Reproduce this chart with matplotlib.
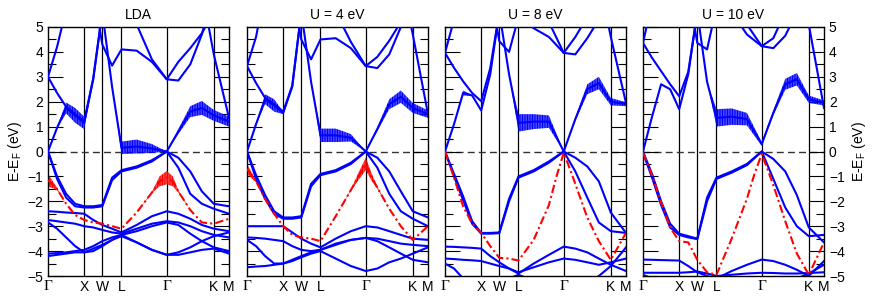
import matplotlib
matplotlib.use('Agg')
import numpy as np
import matplotlib.pyplot as plt
from matplotlib.ticker import MultipleLocator

plt.rcParams['font.family'] = ['Liberation Sans', 'DejaVu Sans']
plt.rcParams['hatch.linewidth'] = 1.0

# === k-path (sample points) and high-symmetry points
k_path = [0.0, 0.25, 0.5, 0.75, 1.0, 1.25, 1.5, 1.77, 2.03, 2.45, 2.87, 3.28, 3.6, 3.93, 4.25, 4.58, 5.0]
red_k = [0.0, 0.25, 0.5, 0.75, 1.0, 1.25, 1.5, 1.77, 2.03, 2.45, 2.87, 3.08, 3.28, 3.45, 3.6, 3.93, 4.25, 4.58, 5.0]
sym_k = [0.0, 1.0, 1.5, 2.03, 3.28, 4.58, 5.0]
sym_labels = ['Γ', 'X', 'W', 'L', 'Γ', 'K', 'M']
titles = ['LDA', 'U = 4 eV', 'U = 8 eV', 'U = 10 eV']

OFF = 6.5  # bands above the window

# === LDA
lda_blue = [
    [0.0, 0.95, 1.75, 1.45, 1.15, 2.9, 5.6, 2.6, 0.15, 0.2, 0.12, 0.0, 0.8, 1.6, 1.75, 1.45, 1.2],
    [3.0, 2.35, 1.8, 1.5, 1.2, 2.95, 5.6] + [OFF] * 10,
    [3.0, 4.2, 5.7] + [OFF] * 14,
    [OFF] * 6 + [4.3, 3.45, 4.1, 4.05, 3.6, 2.9, 3.6, 4.15, 4.75, 5.6, OFF],
    [OFF] * 9 + [5.1, 3.7, 2.9, 2.85, 3.5, 4.7, OFF, OFF],
    [OFF] * 15 + [3.9, 1.35],
    [0.0, -1.0, -1.7, -2.1, -2.2, -2.2, -2.15, -1.05, -0.75, -0.6, -0.35, 0.0, -0.25, -0.8, -1.6, -2.1, -2.2],
    [0.0, -1.1, -1.85, -2.2, -2.25, -2.25, -2.2, -1.15, -0.8, -0.65, -0.4, 0.0, -0.65, -1.7, -2.1, -2.3, -2.5],
    [-2.4, -2.42, -2.45, -2.47, -2.5, -2.75, -2.95, -3.1, -3.25, -2.95, -2.6, -2.4, -2.5, -2.7, -2.95, -3.1, -3.2],
    [-2.75, -2.8, -2.85, -2.9, -3.0, -3.05, -3.15, -3.25, -3.3, -3.1, -2.9, -2.8, -2.85, -3.0, -3.2, -3.35, -3.45],
    [-2.85, -3.1, -3.45, -3.8, -4.05, -4.0, -3.8, -3.55, -3.35, -3.65, -3.95, -4.15, -4.05, -3.85, -3.6, -3.4, -3.25],
    [-4.1, -4.08, -4.05, -4.0, -3.95, -3.8, -3.6, -3.45, -3.35, -3.2, -3.0, -2.85, -2.95, -3.3, -3.6, -3.85, -4.0],
    [-4.2, -4.15, -4.1, -4.05, -4.05, -3.9, -3.75, -3.55, -3.4, -3.65, -3.95, -4.15, -4.15, -4.05, -3.95, -3.9, -4.1],
]
lda_fat_w = [0, 0.03, 0.22, 0.3, 0.25, 0.03, 0, 0, 0.25, 0.28, 0.18, 0.0, 0.1, 0.22, 0.28, 0.22, 0.2]
lda_red = [-1.15, -1.5, -2.1, -2.55, -2.75, -2.85, -2.9, -3.0, -3.1, -2.45, -1.65, -1.2, -1.05, -1.2, -1.6, -2.35, -2.85, -2.9, -2.7]
lda_red_w = [0.25, 0.05, 0, 0, 0, 0, 0, 0, 0, 0, 0.03, 0.2, 0.27, 0.2, 0.05, 0, 0, 0, 0]

# === U = 4 eV
u4_blue = [
    [0.0, 1.1, 2.1, 1.85, 1.55, 2.6, 5.6, 2.8, 0.65, 0.65, 0.55, 0.0, 0.9, 1.9, 2.2, 1.75, 1.5],
    [3.43, 2.75, 2.15, 1.9, 1.6, 2.65, 5.6] + [OFF] * 10,
    [3.43, 4.6] + [OFF] * 15,
    [OFF] * 6 + [4.5, 3.7, 4.5, 4.55, 4.15, 3.43, 3.35, 3.9, 5.0, OFF, OFF],
    [OFF] * 9 + [5.6, 4.4, 3.43, 3.8, 4.45, 5.2, OFF, OFF],
    [OFF] * 14 + [7.0, 4.7, 1.5],
    [0.0, -0.95, -1.75, -2.4, -2.65, -2.65, -2.6, -1.3, -0.9, -0.75, -0.45, 0.0, -0.25, -0.8, -1.6, -2.4, -2.65],
    [0.0, -1.1, -1.9, -2.5, -2.7, -2.7, -2.65, -1.4, -0.95, -0.8, -0.5, 0.0, -0.65, -1.7, -2.4, -2.7, -3.0],
    [-3.0, -3.0, -3.0, -3.0, -3.0, -3.25, -3.5, -3.7, -3.85, -3.5, -3.2, -3.0, -3.05, -3.2, -3.35, -3.5, -3.55],
    [-3.45, -3.47, -3.5, -3.55, -3.6, -3.8, -3.95, -4.0, -3.95, -3.75, -3.55, -3.47, -3.5, -3.6, -3.7, -3.75, -3.8],
    [-3.55, -3.8, -4.2, -4.5, -4.5, -4.4, -4.25, -4.1, -4.0, -4.3, -4.6, -4.8, -4.7, -4.45, -4.3, -4.1, -3.85],
    [-4.65, -4.62, -4.6, -4.55, -4.5, -4.35, -4.2, -4.05, -3.95, -3.7, -3.55, -3.47, -3.6, -3.85, -4.1, -4.35, -4.45],
]
u4_fat_w = [0, 0.03, 0.2, 0.25, 0.05, 0, 0, 0, 0.27, 0.27, 0.15, 0.0, 0.08, 0.2, 0.25, 0.2, 0.15]
u4_red = [-0.7, -1.2, -1.9, -2.5, -3.0, -3.35, -3.45, -3.5, -3.6, -2.6, -1.55, -1.0, -0.5, -1.05, -1.45, -2.3, -3.0, -3.55, -3.0]
u4_red_w = [0.2, 0.04, 0, 0, 0, 0, 0, 0, 0, 0, 0.03, 0.15, 0.25, 0.15, 0.04, 0, 0, 0, 0]

# === U = 8 eV
u8_blue = [
    [0.0, 1.1, 2.35, 2.25, 1.65, 3.1, 5.6, 3.1, 1.15, 1.2, 1.2, 0.0, 1.3, 2.5, 2.75, 2.0, 1.9],
    [3.96, 3.36, 2.82, 2.35, 2.02, 3.35, 5.6] + [OFF] * 10,
    [3.96, 5.3] + [OFF] * 15,
    [OFF] * 6 + [4.43, 4.0, 5.4, 4.95, 4.6, 3.96, 3.9, 4.55, 5.3, OFF, OFF],
    [OFF] * 10 + [5.2, 3.96, 4.6, 5.4, OFF, OFF, OFF],
    [OFF] * 14 + [7.0, 4.6, 1.95],
    [0.0, -0.9, -1.8, -2.8, -3.27, -3.27, -3.25, -1.9, -1.0, -0.75, -0.4, 0.0, -0.25, -0.6, -1.2, -2.45, -3.27],
    [0.0, -1.0, -1.95, -2.9, -3.3, -3.3, -3.28, -2.0, -1.05, -0.8, -0.45, 0.0, -0.8, -1.85, -2.85, -3.2, -3.27],
    [-3.82, -3.83, -3.85, -3.87, -3.9, -4.2, -4.45, -4.7, -4.9, -4.5, -4.15, -3.82, -3.9, -4.05, -4.3, -4.55, -4.8],
    [-4.3, -4.32, -4.35, -4.37, -4.4, -4.5, -4.6, -4.7, -4.85, -4.65, -4.45, -4.3, -4.35, -4.45, -4.55, -4.45, -4.3],
    [-4.5, -4.7, -5.1, -5.5, -5.6, -5.5, -5.3, -5.1, -4.95, -5.2, -5.4, -5.5, -5.4, -5.3, -5.0, -4.6, -3.85],
]
u8_fat_w = [0, 0, 0.1, 0.02, 0, 0, 0, 0, 0.35, 0.3, 0.25, 0.0, 0.08, 0.2, 0.25, 0.15, 0.08]
u8_red = [0.0, -1.05, -2.2, -2.9, -3.27, -3.8, -4.27, -4.3, -4.38, -3.55, -2.15, -1.0, -0.05, -0.7, -1.3, -2.65, -3.6, -4.35, -3.27]
u8_red_w = [0] * 19

# === U = 10 eV
u10_blue = [
    [0.0, 1.4, 2.7, 2.5, 1.7, 3.1, 5.6, 2.8, 1.35, 1.4, 1.3, 0.3, 1.55, 2.7, 2.9, 2.1, 1.95],
    [4.36, 3.76, 3.23, 2.7, 2.22, 3.2, 5.6] + [OFF] * 10,
    [4.36, 6.0] + [OFF] * 15,
    [OFF] * 6 + [4.36, 4.1, 5.8, 5.6, 4.7, 4.23, 4.15, 4.65, 5.6, OFF, OFF],
    [OFF] * 10 + [5.1, 4.23, 4.55, 5.6, OFF, OFF, OFF],
    [OFF] * 14 + [7.0, 5.1, 1.75],
    [0.0, -0.9, -2.0, -2.9, -3.3, -3.4, -3.5, -1.85, -1.05, -0.8, -0.5, 0.0, -0.3, -0.8, -1.75, -3.05, -3.65],
    [-0.05, -1.05, -2.15, -3.05, -3.35, -3.45, -3.52, -2.0, -1.1, -0.85, -0.55, 0.0, -1.1, -2.25, -3.0, -3.4, -3.35],
    [-4.34, -4.35, -4.36, -4.37, -4.38, -4.6, -4.85, -5.0, -5.1, -4.8, -4.55, -4.34, -4.4, -4.55, -4.75, -5.0, -4.4],
    [-4.87, -4.87, -4.87, -4.87, -4.87, -4.85, -4.82, -4.9, -5.0, -4.95, -4.9, -4.87, -4.88, -4.9, -4.9, -4.88, -4.85],
    [-4.95, -5.1, -5.4, -5.6, -5.6, -5.5, -5.3, -5.2, -5.1, -5.3, -5.5, -5.6, -5.5, -5.3, -5.1, -4.9, -4.55],
]
u10_fat_w = [0, 0, 0.03, 0, 0, 0, 0, 0, 0.35, 0.33, 0.25, 0.08, 0.1, 0.22, 0.25, 0.15, 0.1]
u10_red = [-0.05, -0.95, -2.05, -3.05, -3.6, -3.65, -4.35, -4.85, -4.95, -3.5, -1.9, -0.9, -0.1, -0.75, -1.35, -2.8, -4.1, -4.95, -3.65]
u10_red_w = [0] * 19

panels = [
    (lda_blue, lda_fat_w, lda_red, lda_red_w),
    (u4_blue, u4_fat_w, u4_red, u4_red_w),
    (u8_blue, u8_fat_w, u8_red, u8_red_w),
    (u10_blue, u10_fat_w, u10_red, u10_red_w),
]

# === Figure
fig = plt.figure(figsize=(8.72, 2.96), dpi=100)
lefts = [48, 247, 445, 643]
k = np.array(k_path)
kr = np.array(red_k)

for i, (blue, fat_w, red, red_w) in enumerate(panels):
    ax = fig.add_axes([lefts[i] / 872, 20 / 296, 181 / 872, 249 / 296])

    # fat (orbital weight) bands
    e0 = np.array(blue[0])
    w = np.array(fat_w)
    ax.fill_between(k, e0 - w, e0 + w, facecolor='none', edgecolor='blue',
                    hatch='|' * 10, linewidth=0, zorder=2)
    er = np.array(red)
    wr = np.array(red_w)
    ax.fill_between(kr, er - wr, er + wr, facecolor='none', edgecolor='red',
                    hatch='|' * 10, linewidth=0, zorder=2)

    for band in blue:
        ax.plot(k, band, color='blue', lw=1.5, zorder=3)
    ax.plot(kr, red, color='red', lw=1.5, ls=(0, (4, 1.5, 1, 1.5)), zorder=4)

    for ks in sym_k[1:-1]:
        ax.axvline(ks, color='black', lw=0.9, zorder=1)
    ax.axhline(0, color='#333333', lw=1.0, ls=(0, (5, 3)), zorder=1)

    ax.set_xlim(0, 5)
    ax.set_ylim(-5, 5)
    ax.set_xticks(sym_k)
    ax.set_xticklabels(sym_labels, fontsize=10)
    for lab in ax.get_xticklabels():
        if lab.get_text() == 'Γ':
            lab.set_fontfamily('Liberation Serif')
            lab.set_fontsize(11)
    ax.tick_params(axis='x', length=0, pad=3)

    ax.set_yticks(range(-5, 6))
    ax.yaxis.set_minor_locator(MultipleLocator(0.5))
    ax.tick_params(axis='y', which='both', direction='in', left=True, right=True,
                   width=0.8, labelsize=10, labelleft=(i == 0), labelright=(i == 3))
    ax.tick_params(axis='y', which='major', length=11)
    ax.tick_params(axis='y', which='minor', length=5.5)
    for s in ax.spines.values():
        s.set_linewidth(1.0)

    ax.set_title(titles[i], fontsize=10, pad=6)

    if i == 0:
        ax.set_ylabel('E-E$_\\mathregular{F}$ (eV)', fontsize=10, labelpad=2)
    if i == 3:
        ax.yaxis.set_label_position('right')
        ax.set_ylabel('E-E$_\\mathregular{F}$ (eV)', fontsize=10, labelpad=4)

fig.savefig('out.png', dpi=100)
